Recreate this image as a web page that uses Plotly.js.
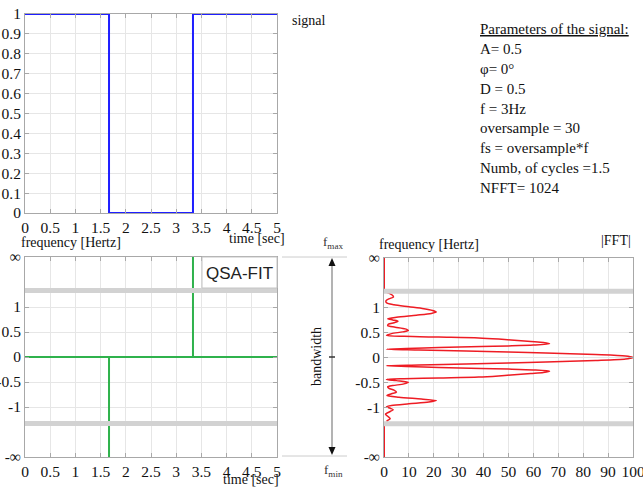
<!DOCTYPE html>
<html>
<head>
<meta charset="utf-8">
<script src="https://cdn.plot.ly/plotly-3.0.1.min.js"></script>
<style>html,body{margin:0;padding:0;background:#fff;overflow:hidden;}#chart{width:643px;height:490px;}</style>
</head>
<body>
<div id="chart"></div>
<script>
// ---- data ----
const sigTime = [0, 1.667, 1.667, 3.333, 3.333, 5];
const sigValue = [1, 1, 0, 0, 1, 1];

const qsaTime = [0, 1.667, 1.667, 1.667, 3.333, 3.333, 3.333, 5];
const qsaFreq = [0, 0, -2, 0, 0, 2, 0, 0];

const fftFreq = [1.31, 1.28, 1.245, 1.215, 1.18, 1.14, 1.1, 1.06, 1.02, 0.98, 0.945, 0.915, 0.885, 0.85, 0.81, 0.78, 0.755, 0.73, 0.7, 0.67, 0.64, 0.61, 0.575, 0.545, 0.515, 0.48, 0.445, 0.425, 0.41, 0.394, 0.37, 0.35, 0.32, 0.3, 0.275, 0.25, 0.233, 0.22, 0.2, 0.18, 0.165, 0.15, 0.13, 0.11, 0.09, 0.06, 0.03, 0,
  -0.03, -0.06, -0.09, -0.11, -0.13, -0.15, -0.165, -0.18, -0.2, -0.22, -0.233, -0.25, -0.275, -0.3, -0.32, -0.35, -0.37, -0.394, -0.41, -0.425, -0.44, -0.465, -0.5, -0.53, -0.565, -0.59, -0.62, -0.655, -0.695, -0.73, -0.765, -0.8, -0.835, -0.865, -0.895, -0.93, -0.965, -0.99, -1.02, -1.05, -1.085, -1.14, -1.18, -1.23, -1.265, -1.285];
const fftMag = [1, 2.5, 3.5, 3.8, 2, 0.8, 1, 4, 10, 16, 19.5, 21, 19, 13, 5, 1.5, 3.5, 5.6, 4, 1.8, 1.5, 4.5, 8.5, 9.8, 7.5, 3, 1, 8, 22, 38, 46, 51, 59, 64, 66.5, 60, 50, 39, 22, 9, 1, 14, 33, 50, 65, 85, 97, 100,
  97, 85, 65, 50, 33, 14, 1, 9, 22, 39, 50, 60, 66.5, 64, 59, 51, 46, 38, 22, 8, 1, 5, 9.8, 8, 3.5, 1.5, 2, 4, 5, 3, 1.2, 6, 15, 21, 18, 10, 3, 1, 2.5, 3.7, 2.5, 0.6, 1.5, 2.5, 1.5, 1];
// out-of-band parts of the spectrum (on the zero line)
const outMag = [0, 0, null, 0, 0];
const outFreq = [2, 1.33, null, -1.33, -2];

const bandEdge = [1.33, -1.33];
const freqTickVals = [-2, -1, -0.5, 0, 0.5, 1, 2];
const freqTickText = ['-\u221e', '-1', '-0.5', '0', '0.5', '1', '\u221e'];

const paramLines = ['<u>Parameters of the signal:</u>', 'A= 0.5', '\u03c6= 0\u00b0', 'D = 0.5', 'f = 3Hz',
  'oversample = 30', 'fs = oversample*f', 'Numb, of cycles =1.5', 'NFFT= 1024'];

// ---- helpers ----
const W = 643, H = 490;
const px = x => x / W;
const py = y => 1 - y / H;
const serif = 'Liberation Serif, Times New Roman, serif';
const tf = {family: serif, size: 14, color: '#111'};
const tickf = {family: serif, size: 15.5, color: '#111'};

function ax(extra) {
  return Object.assign({
    showline: true, linecolor: '#a8a8a8', linewidth: 1, mirror: 'ticks',
    ticks: 'inside', ticklen: 4, tickcolor: '#a8a8a8',
    showgrid: true, gridcolor: '#e6e6e6', zeroline: false,
    tickfont: tickf, fixedrange: true
  }, extra);
}

const traces = [
  {x: sigTime, y: sigValue, xaxis: 'x', yaxis: 'y', mode: 'lines', line: {color: '#1f1fff', width: 2}, cliponaxis: false, hoverinfo: 'skip'},
  {x: qsaTime, y: qsaFreq, xaxis: 'x2', yaxis: 'y2', mode: 'lines', line: {color: '#2fb24c', width: 2}, cliponaxis: false, hoverinfo: 'skip'},
  {x: fftMag, y: fftFreq, xaxis: 'x3', yaxis: 'y3', mode: 'lines', line: {color: '#ee1c24', width: 1.5, shape: 'spline', smoothing: 0.8}, cliponaxis: false, hoverinfo: 'skip'},
  {x: outMag, y: outFreq, xaxis: 'x3', yaxis: 'y3', mode: 'lines', line: {color: '#ee1c24', width: 2}, cliponaxis: false, hoverinfo: 'skip', connectgaps: false}
];

const shapes = [];
bandEdge.forEach(b => {
  shapes.push({type: 'line', xref: 'x2 domain', yref: 'y2', x0: 0, x1: 1, y0: b, y1: b, line: {color: '#d2d2d2', width: 5}, layer: 'above'});
  shapes.push({type: 'line', xref: 'x3 domain', yref: 'y3', x0: 0, x1: 1, y0: b, y1: b, line: {color: '#d2d2d2', width: 5}, layer: 'above'});
});
shapes.push({type: 'rect', xref: 'paper', yref: 'paper', x0: px(202), x1: px(277), y0: py(288), y1: py(257), fillcolor: '#ffffff', line: {color: '#c4c4c4', width: 1}, layer: 'above'});
shapes.push({type: 'line', xref: 'paper', yref: 'paper', x0: px(282), x1: px(347), y0: py(257), y1: py(257), line: {color: '#cccccc', width: 1}});
shapes.push({type: 'line', xref: 'paper', yref: 'paper', x0: px(282), x1: px(347), y0: py(456), y1: py(456), line: {color: '#cccccc', width: 1}});
shapes.push({type: 'line', xref: 'paper', yref: 'paper', x0: px(332), x1: px(332), y0: py(262), y1: py(451), line: {color: '#9a9a9a', width: 1.5}});
shapes.push({type: 'path', xref: 'paper', yref: 'paper', path: 'M' + px(328.5) + ',' + py(266) + ' L' + px(335.5) + ',' + py(266) + ' L' + px(332) + ',' + py(258) + ' Z', fillcolor: '#111', line: {width: 0}});
shapes.push({type: 'path', xref: 'paper', yref: 'paper', path: 'M' + px(328.5) + ',' + py(447) + ' L' + px(335.5) + ',' + py(447) + ' L' + px(332) + ',' + py(455) + ' Z', fillcolor: '#111', line: {width: 0}});
shapes.push({type: 'line', xref: 'paper', yref: 'paper', x0: px(329), x1: px(335), y0: py(357), y1: py(357), line: {color: '#333', width: 1.5}});

function note(text, x, y, opts) {
  return Object.assign({text: text, xref: 'paper', yref: 'paper', x: px(x), y: py(y), showarrow: false,
    xanchor: 'center', yanchor: 'middle', font: tf}, opts || {});
}

const annotations = [
  note('signal', 290, 21, {xanchor: 'left'}),
  note('time [sec]', 257, 238),
  note('frequency [Hertz]', 71, 243),
  note('time [sec]', 251, 479),
  note('frequency [Hertz]', 429, 244),
  note('|FFT|', 616, 240),
  note('f<sub>max</sub>', 333, 243, {font: {family: serif, size: 13, color: '#333'}}),
  note('f<sub>min</sub>', 333, 470, {font: {family: serif, size: 13, color: '#333'}}),
  note('bandwidth', 316, 357, {textangle: -90}),
  note('QSA-FIT', 239.5, 273, {font: {family: 'Liberation Sans, Arial, sans-serif', size: 17, color: '#222'}})
];
paramLines.forEach((t, i) => {
  annotations.push(note(t, 478, 29 + i * 19.9, {xanchor: 'left', font: {family: serif, size: 15, color: '#111'}}));
});

const layout = {
  width: W, height: H,
  margin: {l: 0, r: 0, t: 0, b: 0},
  paper_bgcolor: '#ffffff', plot_bgcolor: '#ffffff',
  showlegend: false,
  xaxis: ax({domain: [px(25), px(277)], range: [0, 5], dtick: 0.5, anchor: 'y'}),
  yaxis: ax({domain: [py(213), py(14)], range: [0, 1], dtick: 0.1, anchor: 'x'}),
  xaxis2: ax({domain: [px(25), px(277)], range: [0, 5], dtick: 0.5, anchor: 'y2'}),
  yaxis2: ax({domain: [py(457), py(257)], range: [-2, 2], tickmode: 'array', tickvals: freqTickVals, ticktext: freqTickText, anchor: 'x2'}),
  xaxis3: ax({domain: [px(384), px(633)], range: [0, 100], dtick: 10, anchor: 'y3', ticklabeloverflow: 'allow'}),
  yaxis3: ax({domain: [py(457), py(258)], range: [-2, 2], tickmode: 'array', tickvals: freqTickVals, ticktext: freqTickText, anchor: 'x3'}),
  shapes: shapes,
  annotations: annotations
};

Plotly.newPlot('chart', traces, layout, {displayModeBar: false, staticPlot: true});
</script>
</body>
</html>
